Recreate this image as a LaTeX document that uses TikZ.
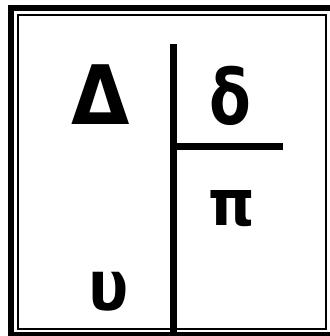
\documentclass[tikz,border=0pt]{standalone}
\usepackage{fontspec}
\usepackage{graphicx}
\setmainfont{DejaVu Sans}
\begin{document}
\begin{tikzpicture}[x=1pt,y=-1pt,
  thickframe/.style={line width=6pt},
  thinframe/.style={line width=2pt},
  divider/.style={line width=7pt},
  glyph/.style={inner sep=0pt,anchor=base,font=\bfseries}]
\useasboundingbox (0,0) rectangle (329,336);
\fill[white] (0,0) rectangle (329,336);
% frames
\draw[thickframe] (11,8) rectangle (335,335);
\draw[thinframe] (18,15) rectangle (326,329);
% dividers
\coordinate (vtop) at (173.5,44);
\coordinate (vbot) at (173.5,332);
\coordinate (hleft) at (173.5,147);
\coordinate (hright) at (283,147);
\draw[divider] (vtop) -- (vbot);
\draw[divider] (hleft) -- (hright);
% letters
\node[glyph,font=\bfseries\fontsize{82}{82}\selectfont] (Delta) at (101,125) {\scalebox{0.92}[1]{Δ}};
\node[glyph,font=\bfseries\fontsize{76}{76}\selectfont] (delta) at (230,125) {\scalebox{0.8}[1]{δ}};
\node[glyph,font=\bfseries\fontsize{64}{64}\selectfont] (pi) at (232,225) {\scalebox{0.92}[1]{π}};
\node[glyph,font=\bfseries\fontsize{70}{70}\selectfont] (upsilon) at (109,310) {\scalebox{0.85}[1]{υ}};
\end{tikzpicture}
\end{document}
